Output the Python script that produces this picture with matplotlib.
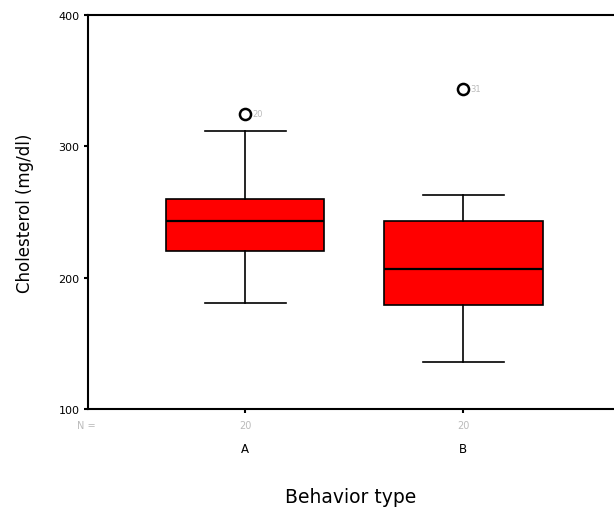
import matplotlib
matplotlib.use('Agg')
import matplotlib.pyplot as plt
import matplotlib.transforms as mtransforms

plt.rcParams['font.family'] = ['DejaVu Sans']

#==============================================================================
# Data
#==============================================================================
groups = ['A', 'B']
n_counts = [20, 20]
medians = [243, 207]
q1 = [220, 179]
q3 = [260, 243]
whisk_lo = [181, 136]
whisk_hi = [312, 263]
outliers = [[325], [344]]
outlier_ids = [['20'], ['31']]

stats = []
for i in range(len(groups)):
    stats.append({'med': medians[i], 'q1': q1[i], 'q3': q3[i],
                  'whislo': whisk_lo[i], 'whishi': whisk_hi[i],
                  'fliers': outliers[i], 'label': groups[i]})

#==============================================================================
# Plot
#==============================================================================
fig = plt.figure(figsize=(6.14, 5.10), dpi=100)
ax = fig.add_axes([0.1433, 0.196, 0.8567, 0.7726])

ax.bxp(stats, positions=[1, 2], widths=0.725, capwidths=0.37,
       patch_artist=True, showfliers=True,
       boxprops=dict(facecolor='#ff0000', edgecolor='black', linewidth=1.2),
       medianprops=dict(color='black', linewidth=1.6),
       whiskerprops=dict(color='black', linewidth=1.2),
       capprops=dict(color='black', linewidth=1.2),
       flierprops=dict(marker='o', markerfacecolor='white', markeredgecolor='black',
                       markersize=8, markeredgewidth=1.8))

for i in range(len(groups)):
    for v, lab in zip(outliers[i], outlier_ids[i]):
        ax.annotate(lab, (i + 1, v), xytext=(5, 0), textcoords='offset points',
                    fontsize=6, color='#bbbbbb', va='center')

ax.set_xlim(0.28, 2.69)
ax.set_ylim(100, 400)
ax.set_yticks([100, 200, 300, 400])
ax.tick_params(axis='y', length=3, width=1.5, labelsize=8, pad=3)
ax.set_xticks([1, 2])
ax.set_xticklabels(groups, fontsize=8.5)
ax.tick_params(axis='x', length=3, width=1.5, pad=21)

for s in ['left', 'bottom', 'top']:
    ax.spines[s].set_linewidth(1.5)
ax.spines['right'].set_visible(False)

# N = row
trans = mtransforms.blended_transform_factory(ax.transData, ax.transAxes)
ax.text(-0.02, -0.04, 'N =', transform=ax.transAxes, fontsize=7, color='#bbbbbb',
        ha='left', va='center')
for i in range(len(groups)):
    ax.text(i + 1, -0.04, str(n_counts[i]), transform=trans, fontsize=7,
            color='#bbbbbb', ha='center', va='center')

ax.set_ylabel('Cholesterol (mg/dl)', fontsize=12, labelpad=18)
ax.set_xlabel('Behavior type', fontsize=13.5, labelpad=23)

fig.savefig('out.png', dpi=100)
